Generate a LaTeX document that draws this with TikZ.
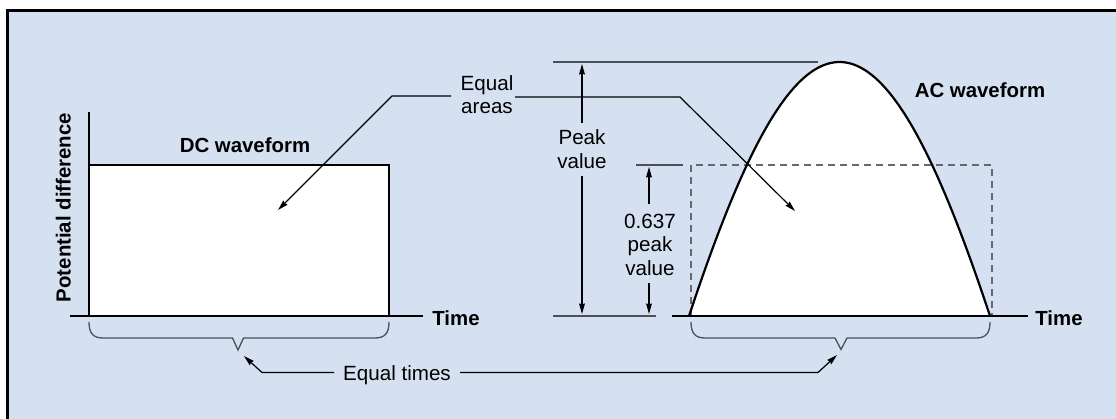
\documentclass[tikz,border=0pt]{standalone}
\usepackage{fontspec}
\setmainfont{Liberation Sans}
\usetikzlibrary{arrows.meta}
\definecolor{bgblue}{RGB}{213,225,241}
\definecolor{dimgray}{RGB}{75,80,90}
\definecolor{dashgray}{RGB}{100,104,112}
\begin{document}
\begin{tikzpicture}[x=1pt,y=-1pt,
  lbl/.style={font=\fontsize{20.6}{23.5}\selectfont, inner sep=0pt, align=center, text=black},
  blbl/.style={font=\fontsize{20.4}{23.5}\selectfont\bfseries, inner sep=0pt, text=black},
  thinline/.style={line width=1.2pt, draw=black},
  dimline/.style={line width=1.2pt, draw=dimgray},
  bracestyle/.style={line width=1.3pt, draw=dimgray, line join=miter},
  arr/.style={line width=1.2pt, draw=black, -{Stealth[length=10.5pt,width=5.8pt,inset=1pt]}},
  heavy/.style={line width=2.1pt, draw=black},
  dashbox/.style={line width=1.2pt, draw=dashgray, dash pattern=on 7pt off 5pt}
]
\useasboundingbox (0,0) rectangle (1116,418);
\fill[white] (0,0) rectangle (1116,418);
% frame
\filldraw[fill=bgblue, draw=black, line width=3pt] (7,10.8) rectangle (1130,430);

% ---------- DC waveform ----------
\coordinate (yaxtop) at (89,112);
\coordinate (yaxbot) at (89,316);
\coordinate (taxL) at (70,316);
\coordinate (taxR) at (423,316);
\filldraw[fill=white, heavy] (89,316) rectangle (389,165);
\draw[thinline] (yaxtop) -- (yaxbot);
\draw[thinline] (taxL) -- (taxR);
\node[blbl, anchor=base] (dcw) at (245,152) {DC waveform};
\node[blbl, anchor=base] (time1) at (456,325) {Time};
\node[blbl, anchor=base, rotate=90] (pd) at (70.7,207.5) {Potential difference};

% DC brace
\draw[bracestyle] (89,322) .. controls (89,333) and (93,338) .. (103,338) -- (232.5,338) -- (238,350) -- (243.5,338) -- (375,338) .. controls (385,338) and (389,333) .. (389,322);
\coordinate (tip1) at (244,356);

% ---------- AC waveform ----------
\fill[white] plot[domain=0:1,samples=90,variable=\t] ({689+301*\t},{316-254*(0.5*sin(180*\t)+2*\t*(1-\t))}) -- cycle;
\draw[dashbox] (691,316) -- (691,165) -- (992,165) -- (992,316);
\draw[line width=2.2pt, line join=round] plot[domain=0:1,samples=90,variable=\t] ({689+301*\t},{316-254*(0.5*sin(180*\t)+2*\t*(1-\t))});
\coordinate (tax2L) at (672,316);
\coordinate (tax2R) at (1028,316);
\draw[thinline] (tax2L) -- (tax2R);
\draw[line width=2.4pt] (689,316) -- (990,316);
\node[blbl, anchor=base] (acw) at (980,97) {AC waveform};
\node[blbl, anchor=base] (time2) at (1059,325) {Time};

% AC brace
\draw[bracestyle] (691,322) .. controls (691,333) and (695,338) .. (705,338) -- (835,338) -- (841,349.5) -- (847,338) -- (976,338) .. controls (986,338) and (990,333) .. (990,322);
\coordinate (tip2) at (837,355);

% ---------- Peak value dimension ----------
\coordinate (pkL) at (553,62);
\coordinate (pkR) at (818,62);
\coordinate (bsL) at (553,316);
\coordinate (bsR) at (656,316);
\draw[dimline] (pkL) -- (pkR);
\draw[dimline] (bsL) -- (bsR);
\node[lbl] (peak) at (582,149) {Peak\\value};
\coordinate (pa1) at (582,123);
\coordinate (pa1t) at (582,64);
\coordinate (pa2) at (582,176);
\coordinate (pa2t) at (582,314);
\draw[arr] (pa1) -- (pa1t);
\draw[arr] (pa2) -- (pa2t);

% ---------- 0.637 dimension ----------
\coordinate (avL) at (636,165);
\coordinate (avR) at (683,165);
\draw[dimline] (avL) -- (avR);
\node[lbl] (avg) at (650,244.5) {0.637\\peak\\value};
\coordinate (aa1) at (649,204);
\coordinate (aa1t) at (649,167);
\coordinate (aa2) at (649,283);
\coordinate (aa2t) at (649,314);
\draw[arr] (aa1) -- (aa1t);
\draw[arr] (aa2) -- (aa2t);

% ---------- Equal areas ----------
\node[lbl] (eqa) at (487,94.5) {Equal\\areas};
\coordinate (ea1) at (451,96);
\coordinate (ea1c) at (392,96);
\coordinate (ea1t) at (278,210);
\coordinate (ea2) at (515,97);
\coordinate (ea2c) at (680,97);
\coordinate (ea2t) at (795,211);
\draw[arr] (ea1) -- (ea1c) -- (ea1t);
\draw[arr] (ea2) -- (ea2c) -- (ea2t);

% ---------- Equal times ----------
\node[lbl, anchor=base] (eqt) at (397,380) {Equal times};
\coordinate (et1) at (334,372.5);
\coordinate (et1c) at (262,372.5);
\coordinate (et2) at (460,372.5);
\coordinate (et2c) at (818,372.5);
\draw[arr] (et1) -- (et1c) -- (tip1);
\draw[arr] (et2) -- (et2c) -- (tip2);
\end{tikzpicture}
\end{document}
